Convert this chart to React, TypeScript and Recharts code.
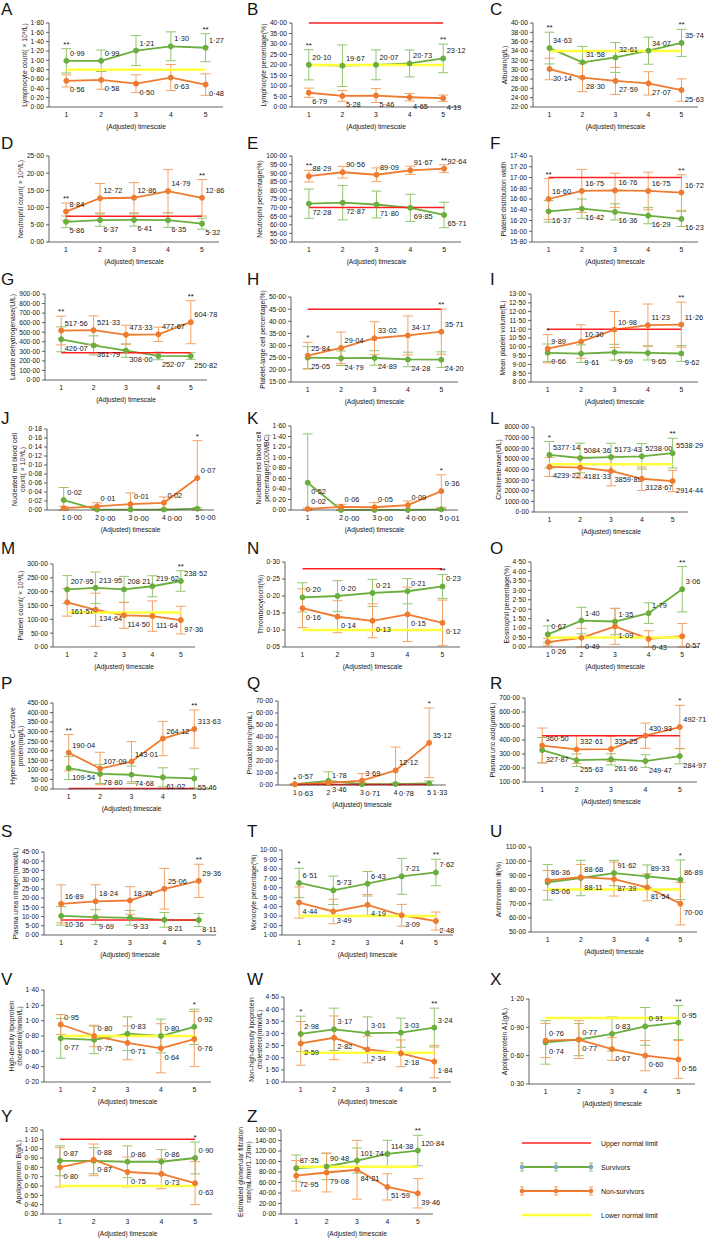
import React from 'react';
import { LineChart, Line, XAxis, YAxis, ErrorBar } from 'recharts';

const TIMESCALE = [1, 2, 3, 4, 5];

// A - lymphocyte count
const A_SURV = [0.99, 0.99, 1.21, 1.3, 1.27];
const A_SURV_SD = [0.26, 0.23, 0.32, 0.31, 0.3];
const A_NON = [0.56, 0.58, 0.5, 0.63, 0.48];
const A_NON_SD = [0.13, 0.2, 0.19, 0.28, 0.23];
const A_TICKS = [0, 0.2, 0.4, 0.6, 0.8, 1, 1.2, 1.4, 1.6, 1.8];
const A_STARS = ['**', '', '', '', '**'];
const A_LOWER = 0.8;

// B - lymphocyte percentage
const B_SURV = [20.1, 19.67, 20.07, 20.73, 23.12];
const B_SURV_SD = [7.2, 9.9, 7.1, 6.4, 6.8];
const B_NON = [6.79, 5.28, 5.46, 4.65, 4.19];
const B_NON_SD = [2.2, 2.6, 3.3, 1.8, 1.5];
const B_TICKS = [0, 5, 10, 15, 20, 25, 30, 35, 40];
const B_STARS = ['**', '', '', '', '**'];
const B_UPPER = 40;
const B_LOWER = 20;

// C - albumin
const C_SURV = [34.63, 31.58, 32.61, 34.07, 35.74];
const C_SURV_SD = [3.4, 3.4, 3.2, 2.9, 2.9];
const C_NON = [30.14, 28.3, 27.59, 27.07, 25.63];
const C_NON_SD = [2.3, 3.0, 2.9, 2.5, 2.4];
const C_TICKS = [22, 24, 26, 28, 30, 32, 34, 36, 38, 40];
const C_STARS = ['**', '', '', '', '**'];
const C_LOWER = 34;

// D - neutrophil count
const D_SURV = [5.86, 6.37, 6.41, 6.35, 5.32];
const D_SURV_SD = [1.7, 1.8, 1.8, 2.1, 1.6];
const D_NON = [8.84, 12.72, 12.86, 14.79, 12.86];
const D_NON_SD = [2.5, 4.3, 4.4, 6.3, 5.3];
const D_TICKS = [0, 5, 10, 15, 20, 25];
const D_STARS = ['**', '', '', '', '**'];
const D_UPPER = 7.5;

// E - neutrophil percentage
const E_SURV = [72.28, 72.87, 71.8, 69.85, 65.71];
const E_SURV_SD = [8.5, 10, 7.8, 7.9, 7.4];
const E_NON = [88.29, 90.56, 89.09, 91.67, 92.64];
const E_NON_SD = [3.4, 3.4, 4, 2.4, 2.3];
const E_TICKS = [50, 55, 60, 65, 70, 75, 80, 85, 90, 95, 100];
const E_STARS = ['**', '', '', '', '**'];
const E_UPPER = 70;

// F - platelet distribution width
const F_SURV = [16.37, 16.42, 16.36, 16.29, 16.23];
const F_SURV_SD = [0.2, 0.18, 0.15, 0.15, 0.14];
const F_NON = [16.6, 16.75, 16.76, 16.75, 16.72];
const F_NON_SD = [0.38, 0.4, 0.32, 0.35, 0.33];
const F_TICKS = [15.8, 16, 16.2, 16.4, 16.6, 16.8, 17, 17.2, 17.4];
const F_STARS = ['**', '', '', '', '**'];
const F_UPPER = 17;

// G - lactate dehydrogenase
const G_SURV = [426.07, 361.79, 308.0, 252.07, 250.82];
const G_SURV_SD = [130, 100, 70, 40, 35];
const G_NON = [517.56, 521.33, 473.33, 477.67, 604.78];
const G_NON_SD = [150, 150, 100, 75, 225];
const G_TICKS = [0, 100, 200, 300, 400, 500, 600, 700, 800, 900];
const G_STARS = ['**', '', '', '', '**'];
const G_UPPER = 285;

// H - platelet-large cell percentage
const H_SURV = [25.05, 24.79, 24.89, 24.28, 24.2];
const H_SURV_SD = [4.5, 3, 3, 3, 3.2];
const H_NON = [25.84, 29.04, 33.02, 34.17, 35.71];
const H_NON_SD = [5.5, 6.5, 6.8, 8, 9.3];
const H_TICKS = [15, 20, 25, 30, 35, 40, 45, 50];
const H_STARS = ['*', '', '', '', '**'];
const H_UPPER = 45;

// I - mean platelet volume
const I_SURV = [9.66, 9.61, 9.69, 9.65, 9.62];
const I_SURV_SD = [0.5, 0.5, 0.45, 0.4, 0.45];
const I_NON = [9.89, 10.3, 10.98, 11.23, 11.26];
const I_NON_SD = [0.8, 0.95, 1.02, 1.2, 1.28];
const I_TICKS = [8, 8.5, 9, 9.5, 10, 10.5, 11, 11.5, 12, 12.5, 13];
const I_STARS = ['*', '', '', '', '**'];
const I_UPPER = 11;

// J - nucleated red blood cell count
const J_SURV = [0.022, 0.001, 0.001, 0.001, 0.003];
const J_SURV_SD = [0.028, 0, 0, 0, 0.002];
const J_NON = [0.004, 0.008, 0.013, 0.016, 0.071];
const J_NON_SD = [0.004, 0.008, 0.025, 0.013, 0.083];
const J_TICKS = [0, 0.02, 0.04, 0.06, 0.08, 0.1, 0.12, 0.14, 0.16, 0.18];
const J_STARS = ['', '', '', '', '*'];

// K - nucleated red blood cell percentage
const K_SURV = [0.52, 0.001, 0.001, 0.001, 0.012];
const K_SURV_SD = [0.93, 0, 0, 0, 0.01];
const K_NON = [0.02, 0.058, 0.052, 0.092, 0.36];
const K_NON_SD = [0.02, 0.05, 0.09, 0.08, 0.31];
const K_TICKS = [0, 0.2, 0.4, 0.6, 0.8, 1, 1.2, 1.4, 1.6];
const K_STARS = ['', '', '', '', '*'];

// L - cholinesterase
const L_SURV = [5377.14, 5084.36, 5173.43, 5238.0, 5538.29];
const L_SURV_SD = [1250, 1400, 1300, 1200, 1400];
const L_NON = [4239.22, 4181.33, 3859.89, 3128.67, 2914.44];
const L_NON_SD = [900, 1000, 1400, 1100, 1000];
const L_TICKS = [0, 1000, 2000, 3000, 4000, 5000, 6000, 7000, 8000];
const L_STARS = ['*', '', '', '', '**'];
const L_LOWER = 4500;

// M - platelet count
const M_SURV = [207.95, 213.95, 208.21, 219.62, 238.52];
const M_SURV_SD = [50, 57, 47, 38, 37];
const M_NON = [161.57, 134.64, 114.5, 111.64, 97.36];
const M_NON_SD = [50, 60, 47, 55, 50];
const M_TICKS = [0, 50, 100, 150, 200, 250, 300];
const M_STARS = ['', '', '', '', '**'];
const M_LOWER = 125;

// N - thrombocytocrit
const N_SURV = [0.196, 0.2, 0.209, 0.214, 0.228];
const N_SURV_SD = [0.043, 0.045, 0.04, 0.037, 0.035];
const N_NON = [0.164, 0.139, 0.127, 0.146, 0.121];
const N_NON_SD = [0.057, 0.047, 0.05, 0.08, 0.067];
const N_TICKS = [0.05, 0.1, 0.15, 0.2, 0.25, 0.3];
const N_STARS = ['', '', '', '', '**'];
const N_UPPER = 0.28;
const N_LOWER = 0.1;

// O - eosinophil percentage
const O_SURV = [0.67, 1.4, 1.35, 1.79, 3.06];
const O_SURV_SD = [0.45, 0.7, 0.7, 0.55, 1.2];
const O_NON = [0.26, 0.49, 1.09, 0.43, 0.57];
const O_NON_SD = [0.2, 0.5, 0.95, 0.43, 0.67];
const O_TICKS = [0, 0.5, 1, 1.5, 2, 2.5, 3, 3.5, 4, 4.5];
const O_STARS = ['*', '', '', '', '**'];
const O_LOWER = 0.5;

// P - hypersensitive C-reactive protein
const P_SURV = [109.54, 78.8, 74.68, 61.02, 55.46];
const P_SURV_SD = [60, 50, 45, 50, 50];
const P_NON = [190.04, 107.09, 143.01, 264.12, 313.63];
const P_NON_SD = [95, 85, 105, 90, 100];
const P_TICKS = [0, 50, 100, 150, 200, 250, 300, 350, 400, 450];
const P_STARS = ['**', '', '', '', '**'];
const P_UPPER = 3;

// Q - procalcitonin
const Q_SURV = [0.63, 3.46, 0.71, 0.78, 1.33];
const Q_SURV_SD = [0.5, 7.5, 1, 1, 2];
const Q_NON = [0.57, 1.78, 3.69, 12.12, 35.12];
const Q_NON_SD = [0.5, 1, 5.8, 19.5, 29];
const Q_TICKS = [0, 10, 20, 30, 40, 50, 60, 70];
const Q_STARS = ['*', '', '', '', '*'];
const Q_UPPER = 0.5;

// R - plasma uric acid
const R_SURV = [327.87, 255.63, 261.66, 249.47, 284.97];
const R_SURV_SD = [90, 45, 40, 45, 55];
const R_NON = [360.5, 332.61, 335.25, 430.93, 492.71];
const R_NON_SD = [125, 100, 90, 90, 155];
const R_TICKS = [100, 200, 300, 400, 500, 600, 700];
const R_STARS = ['', '', '', '', '*'];
const R_UPPER = 430;

// S - plasma urea nitrogen
const S_SURV = [10.36, 9.69, 9.33, 8.21, 8.11];
const S_SURV_SD = [5, 4, 4, 4, 3.5];
const S_NON = [16.89, 18.24, 18.7, 25.06, 29.36];
const S_NON_SD = [10.3, 9, 7.5, 11, 9];
const S_TICKS = [0, 5, 10, 15, 20, 25, 30, 35, 40, 45];
const S_STARS = ['', '', '', '', '**'];
const S_UPPER = 8.2;

// T - monocyte percentage
const T_SURV = [6.51, 5.73, 6.43, 7.21, 7.62];
const T_SURV_SD = [1.55, 1.5, 1.3, 1.9, 1.4];
const T_NON = [4.44, 3.49, 4.19, 3.09, 2.48];
const T_NON_SD = [1.65, 1.3, 1.1, 1.15, 0.95];
const T_TICKS = [1, 2, 3, 4, 5, 6, 7, 8, 9, 10];
const T_STARS = ['*', '', '', '', '**'];
const T_LOWER = 3;

// U - antithrombin III
const U_SURV = [85.06, 88.11, 91.62, 89.33, 86.89];
const U_SURV_SD = [12.5, 12.5, 9, 8, 14];
const U_NON = [86.36, 88.68, 87.39, 81.54, 70.0];
const U_NON_SD = [7, 9, 12, 9.5, 15];
const U_TICKS = [50, 60, 70, 80, 90, 100, 110];
const U_STARS = ['', '', '', '', '*'];
const U_LOWER = 80;

// V - HDL cholesterol
const V_SURV = [0.77, 0.75, 0.83, 0.8, 0.92];
const V_SURV_SD = [0.26, 0.18, 0.22, 0.22, 0.23];
const V_NON = [0.95, 0.8, 0.71, 0.64, 0.76];
const V_NON_SD = [0.13, 0.14, 0.22, 0.32, 0.36];
const V_TICKS = [0.2, 0.4, 0.6, 0.8, 1, 1.2, 1.4];
const V_STARS = ['', '', '', '', '*'];
const V_LOWER = 0.8;

// W - non-HDL cholesterol
const W_SURV = [2.98, 3.17, 3.01, 3.03, 3.24];
const W_SURV_SD = [0.73, 0.87, 0.67, 0.6, 0.8];
const W_NON = [2.59, 2.82, 2.34, 2.18, 1.84];
const W_NON_SD = [0.9, 0.9, 0.55, 0.55, 0.67];
const W_TICKS = [1, 1.5, 2, 2.5, 3, 3.5, 4, 4.5];
const W_STARS = ['*', '', '', '', '**'];
const W_LOWER = 2.2;

// X - apolipoprotein A1
const X_SURV = [0.74, 0.77, 0.83, 0.91, 0.95];
const X_SURV_SD = [0.23, 0.17, 0.18, 0.2, 0.18];
const X_NON = [0.76, 0.77, 0.67, 0.6, 0.56];
const X_NON_SD = [0.18, 0.2, 0.12, 0.16, 0.2];
const X_TICKS = [0.3, 0.6, 0.9, 1.2];
const X_STARS = ['', '', '', '', '**'];
const X_LOWER = 1;

// Y - apolipoprotein B
const Y_SURV = [0.87, 0.87, 0.86, 0.86, 0.9];
const Y_SURV_SD = [0.16, 0.14, 0.17, 0.13, 0.17];
const Y_NON = [0.8, 0.88, 0.75, 0.73, 0.63];
const Y_NON_SD = [0.21, 0.17, 0.16, 0.16, 0.23];
const Y_TICKS = [0.3, 0.4, 0.5, 0.6, 0.7, 0.8, 0.9, 1, 1.1, 1.2];
const Y_STARS = ['', '', '', '', '*'];
const Y_UPPER = 1.1;
const Y_LOWER = 0.6;

// Z - eGFR
const Z_SURV = [87.35, 90.48, 101.74, 114.38, 120.84];
const Z_SURV_SD = [25, 25, 24, 26, 29];
const Z_NON = [72.95, 79.08, 84.21, 51.59, 39.46];
const Z_NON_SD = [29, 37, 56, 25, 28];
const Z_TICKS = [0, 20, 40, 60, 80, 100, 120, 140, 160];
const Z_STARS = ['', '', '', '', '**'];
const Z_LOWER = 90;

const LEGEND_ITEMS = ['Upper normal limit', 'Survivors', 'Non-survivors', 'Lower normal limit'];

const GREEN = '#6aae3e';
const GREEN_BAR = '#93c56f';
const ORANGE = '#ee7b2f';
const ORANGE_BAR = '#f4a264';
const RED = '#ff2020';
const YELLOW = '#ffff3c';
const TEXT = '#151515';
const AXIS = '#3a3a3a';
const FONT = "'Liberation Sans Narrow', 'Liberation Sans', Arial, sans-serif";

const fmt = (v: number) => v.toFixed(2).replace('.', '·');

type PanelDef = {
  id: string;
  title: string[];
  surv: number[];
  survSd: number[];
  non: number[];
  nonSd: number[];
  ticks: number[];
  stars: string[];
  upper?: number;
  lower?: number;
  nonAbove?: boolean;
  box: [number, number, number, number]; // axis x, axis end x, plot top, plot bottom
  letter: [number, number];
};

const C1 = 1, C2 = 247, C3 = 490;

const PANELS: PanelDef[] = [
  { id: 'A', title: ['Lymphocyte count( × 10⁹/L)'], surv: A_SURV, survSd: A_SURV_SD, non: A_NON, nonSd: A_NON_SD, ticks: A_TICKS, stars: A_STARS, lower: A_LOWER, box: [49, 223, 23, 107], letter: [C1, 15] },
  { id: 'B', title: ['Lymphocyte percentage(%)'], surv: B_SURV, survSd: B_SURV_SD, non: B_NON, nonSd: B_NON_SD, ticks: B_TICKS, stars: B_STARS, upper: B_UPPER, lower: B_LOWER, box: [292, 460, 23, 107], letter: [C2, 15] },
  { id: 'C', title: ['Albumin(g/L)'], surv: C_SURV, survSd: C_SURV_SD, non: C_NON, nonSd: C_NON_SD, ticks: C_TICKS, stars: C_STARS, lower: C_LOWER, box: [533, 698, 23, 107], letter: [C3, 15] },
  { id: 'D', title: ['Neutrophil count( × 10⁹/L)'], surv: D_SURV, survSd: D_SURV_SD, non: D_NON, nonSd: D_NON_SD, ticks: D_TICKS, stars: D_STARS, upper: D_UPPER, box: [49, 219, 156, 242], letter: [C1, 149] },
  { id: 'E', title: ['Neutrophil percentage(%)'], surv: E_SURV, survSd: E_SURV_SD, non: E_NON, nonSd: E_NON_SD, ticks: E_TICKS, stars: E_STARS, upper: E_UPPER, box: [292, 461, 156, 242], letter: [C2, 149] },
  { id: 'F', title: ['Platelet distribution width'], surv: F_SURV, survSd: F_SURV_SD, non: F_NON, nonSd: F_NON_SD, ticks: F_TICKS, stars: F_STARS, upper: F_UPPER, box: [532, 698, 156, 242], letter: [C3, 149] },
  { id: 'G', title: ['Lactate dehydrogenase(U/L)'], surv: G_SURV, survSd: G_SURV_SD, non: G_NON, nonSd: G_NON_SD, ticks: G_TICKS, stars: G_STARS, upper: G_UPPER, box: [45, 207, 294, 380], letter: [C1, 285] },
  { id: 'H', title: ['Platelet-large cell percentage(%)'], surv: H_SURV, survSd: H_SURV_SD, non: H_NON, nonSd: H_NON_SD, ticks: H_TICKS, stars: H_STARS, upper: H_UPPER, box: [291, 458, 297, 382], letter: [C2, 285] },
  { id: 'I', title: ['Mean platelet volume(fL)'], surv: I_SURV, survSd: I_SURV_SD, non: I_NON, nonSd: I_NON_SD, ticks: I_TICKS, stars: I_STARS, upper: I_UPPER, box: [531, 698, 294, 382], letter: [C3, 285] },
  { id: 'J', title: ['Nucleated red blood cell', 'count( × 10⁹/L)'], surv: J_SURV, survSd: J_SURV_SD, non: J_NON, nonSd: J_NON_SD, ticks: J_TICKS, stars: J_STARS, box: [47, 214, 429, 510], letter: [C1, 424] },
  { id: 'K', title: ['Nucleated red blood cell', 'percentage(/100WBC)'], surv: K_SURV, survSd: K_SURV_SD, non: K_NON, nonSd: K_NON_SD, ticks: K_TICKS, stars: K_STARS, nonAbove: true, box: [291, 458, 426, 510], letter: [C2, 424] },
  { id: 'L', title: ['Cholinesterase(U/L)'], surv: L_SURV, survSd: L_SURV_SD, non: L_NON, nonSd: L_NON_SD, ticks: L_TICKS, stars: L_STARS, lower: L_LOWER, box: [534, 688, 427, 512], letter: [C3, 424] },
  { id: 'M', title: ['Platelet count( × 10⁹/L)'], surv: M_SURV, survSd: M_SURV_SD, non: M_NON, nonSd: M_NON_SD, ticks: M_TICKS, stars: M_STARS, lower: M_LOWER, box: [53, 195, 564, 647], letter: [C1, 554] },
  { id: 'N', title: ['Thrombocytocrit(%)'], surv: N_SURV, survSd: N_SURV_SD, non: N_NON, nonSd: N_NON_SD, ticks: N_TICKS, stars: N_STARS, upper: N_UPPER, lower: N_LOWER, box: [285, 460, 562, 647], letter: [C2, 554] },
  { id: 'O', title: ['Eosinophil percentage(%)'], surv: O_SURV, survSd: O_SURV_SD, non: O_NON, nonSd: O_NON_SD, ticks: O_TICKS, stars: O_STARS, lower: O_LOWER, box: [531, 699, 562, 647], letter: [C3, 554] },
  { id: 'P', title: ['Hypersensitive C-reactive', 'protein(mg/L)'], surv: P_SURV, survSd: P_SURV_SD, non: P_NON, nonSd: P_NON_SD, ticks: P_TICKS, stars: P_STARS, upper: P_UPPER, box: [53, 210, 703, 789], letter: [C1, 689] },
  { id: 'Q', title: ['Procalcitonin(ng/mL)'], surv: Q_SURV, survSd: Q_SURV_SD, non: Q_NON, nonSd: Q_NON_SD, ticks: Q_TICKS, stars: Q_STARS, upper: Q_UPPER, nonAbove: true, box: [278, 446, 701, 785], letter: [C2, 689] },
  { id: 'R', title: ['Plasma uric acid(μmol/L)'], surv: R_SURV, survSd: R_SURV_SD, non: R_NON, nonSd: R_NON_SD, ticks: R_TICKS, stars: R_STARS, upper: R_UPPER, box: [525, 697, 698, 782], letter: [C3, 689] },
  { id: 'S', title: ['Plasma urea nitrogen(mmol/L)'], surv: S_SURV, survSd: S_SURV_SD, non: S_NON, nonSd: S_NON_SD, ticks: S_TICKS, stars: S_STARS, upper: S_UPPER, box: [44, 216, 852, 935], letter: [C1, 837] },
  { id: 'T', title: ['Monocyte percentage(%)'], surv: T_SURV, survSd: T_SURV_SD, non: T_NON, nonSd: T_NON_SD, ticks: T_TICKS, stars: T_STARS, lower: T_LOWER, box: [282, 453, 850, 935], letter: [C2, 837] },
  { id: 'U', title: ['Antithrombin Ⅲ(%)'], surv: U_SURV, survSd: U_SURV_SD, non: U_NON, nonSd: U_NON_SD, ticks: U_TICKS, stars: U_STARS, lower: U_LOWER, box: [531, 697, 847, 932], letter: [C3, 837] },
  { id: 'V', title: ['High-density lipoprotein', 'cholesterol(mmol/L)'], surv: V_SURV, survSd: V_SURV_SD, non: V_NON, nonSd: V_NON_SD, ticks: V_TICKS, stars: V_STARS, lower: V_LOWER, box: [44, 211, 990, 1082], letter: [C1, 985] },
  { id: 'W', title: ['Non-high-density lipoprotein', 'cholesterol(mmol/L)'], surv: W_SURV, survSd: W_SURV_SD, non: W_NON, nonSd: W_NON_SD, ticks: W_TICKS, stars: W_STARS, lower: W_LOWER, box: [284, 451, 997, 1082], letter: [C2, 985] },
  { id: 'X', title: ['Apolipoprotein A1(g/L)'], surv: X_SURV, survSd: X_SURV_SD, non: X_NON, nonSd: X_NON_SD, ticks: X_TICKS, stars: X_STARS, lower: X_LOWER, box: [529, 695, 999, 1084], letter: [C3, 985] },
  { id: 'Y', title: ['Apolipoprotein B(g/L)'], surv: Y_SURV, survSd: Y_SURV_SD, non: Y_NON, nonSd: Y_NON_SD, ticks: Y_TICKS, stars: Y_STARS, upper: Y_UPPER, lower: Y_LOWER, box: [43, 212, 1130, 1214], letter: [C1, 1122] },
  { id: 'Z', title: ['Estimated glomerular filtration', 'rate(mL/min/1.73m²)'], surv: Z_SURV, survSd: Z_SURV_SD, non: Z_NON, nonSd: Z_NON_SD, ticks: Z_TICKS, stars: Z_STARS, lower: Z_LOWER, box: [281, 433, 1130, 1214], letter: [C2, 1122] },
];

function rowsFor(p: PanelDef) {
  const lo = p.ticks[0];
  const hi = p.ticks[p.ticks.length - 1];
  const bar = (v: number, sd: number) => [Math.max(0, Math.min(sd, v - lo)), Math.max(0, Math.min(sd, hi - v))];
  return TIMESCALE.map((t, i) => {
    const sErr = bar(p.surv[i], p.survSd[i]);
    const nErr = bar(p.non[i], p.nonSd[i]);
    const top = Math.max(p.surv[i] + sErr[1], p.non[i] + nErr[1]);
    return {
      t,
      s: p.surv[i],
      n: p.non[i],
      sErr,
      nErr,
      upper: p.upper ?? null,
      lower: p.lower ?? null,
      star: p.stars[i] ? top : null,
      starTxt: p.stars[i],
    };
  });
}

const makeDot = (color: string, key: 's' | 'n', above: boolean[]) => (props: any) => {
  const { cx, cy, index, payload } = props;
  if (cx == null || cy == null) return <g key={`${key}-${index}`} />;
  return (
    <g key={`${key}-${index}`}>
      <circle cx={cx} cy={cy} r={2.5} fill={color} stroke={color} />
      <text x={cx + 3.5} y={above[index] ? cy - 5 : cy + 11.5} fontSize={7.4} fill={TEXT} fontFamily={FONT}>
        {fmt(payload[key])}
      </text>
    </g>
  );
};

const starDot = (props: any) => {
  const { cx, cy, index, payload } = props;
  if (cx == null || cy == null || !payload.starTxt) return <g key={`st-${index}`} />;
  return (
    <text key={`st-${index}`} x={cx} y={cy - 2} textAnchor="middle" fontSize={8} fill={TEXT} fontFamily={FONT}>
      {payload.starTxt}
    </text>
  );
};

const ML = 70;
const MT = 12;
const MR = 40;
const XH = 28;

function Panel({ p }: { p: PanelDef }) {
  const [x0, x1, top, bottom] = p.box;
  const W = x1 - x0;
  const H = bottom - top;
  const rows = rowsFor(p);
  const sAbove = p.surv.map((s, i) => (p.nonAbove ? false : s >= p.non[i]));
  const nAbove = sAbove.map((a) => !a);
  const labelW = Math.max(...p.ticks.map((t) => fmt(t).length - 1)) * 3.75 + 2.2;
  const lastLineX = ML - 5 - labelW - 5.5;
  const firstLineX = lastLineX - (p.title.length - 1) * 8.2;
  const titleY = MT + H / 2;

  return (
    <div style={{ position: 'absolute', left: x0 - ML, top: top - MT }}>
      <LineChart width={ML + W + MR} height={MT + H + XH} data={rows} margin={{ top: MT, right: MR, bottom: 0, left: 0 }}>
        <XAxis
          type="number"
          dataKey="t"
          domain={[0.5, 5.5]}
          ticks={TIMESCALE}
          interval={0}
          tickLine={false}
          tickSize={0}
          tickMargin={5}
          height={XH}
          axisLine={{ stroke: AXIS, strokeWidth: 0.8 }}
          tick={{ fontSize: 6.8, fill: TEXT, fontFamily: FONT }}
          label={() => (
            <text x={ML + W / 2} y={MT + H + 22} textAnchor="middle" fontSize={6.6} fill={TEXT} fontFamily={FONT}>
              (Adjusted) timescale
            </text>
          )}
        />
        <YAxis
          type="number"
          domain={[p.ticks[0], p.ticks[p.ticks.length - 1]]}
          ticks={p.ticks}
          interval={0}
          width={ML}
          tickSize={3}
          tickMargin={2}
          tickFormatter={fmt}
          axisLine={{ stroke: AXIS, strokeWidth: 0.8 }}
          tickLine={{ stroke: AXIS, strokeWidth: 0.8 }}
          tick={{ fontSize: 6.7, fill: TEXT, fontFamily: FONT }}
          label={() => (
            <g>
              {p.title.map((line, i) => (
                <text
                  key={line}
                  transform={`translate(${firstLineX + i * 8.2}, ${titleY}) rotate(-90)`}
                  textAnchor="middle"
                  dominantBaseline="middle"
                  fontSize={6.8}
                  fill={TEXT}
                  fontFamily={FONT}
                >
                  {line}
                </text>
              ))}
            </g>
          )}
        />
        <Line type="linear" dataKey="s" stroke={GREEN} strokeWidth={1.8} dot={makeDot(GREEN, 's', sAbove)} activeDot={false} isAnimationActive={false}>
          <ErrorBar dataKey="sErr" direction="y" width={5} stroke={GREEN_BAR} strokeWidth={1} />
        </Line>
        <Line type="linear" dataKey="n" stroke={ORANGE} strokeWidth={1.8} dot={makeDot(ORANGE, 'n', nAbove)} activeDot={false} isAnimationActive={false}>
          <ErrorBar dataKey="nErr" direction="y" width={5} stroke={ORANGE_BAR} strokeWidth={1} />
        </Line>
        {p.upper !== undefined && (
          <Line type="linear" dataKey="upper" stroke={RED} strokeWidth={1.5} dot={false} activeDot={false} isAnimationActive={false} />
        )}
        {p.lower !== undefined && (
          <Line type="linear" dataKey="lower" stroke={YELLOW} strokeWidth={2.5} dot={false} activeDot={false} isAnimationActive={false} />
        )}
        <Line type="linear" dataKey="star" stroke="none" dot={starDot} activeDot={false} isAnimationActive={false} />
      </LineChart>
    </div>
  );
}

function LegendBox() {
  const ys = [1143, 1167, 1191, 1215];
  const xs = [522, 556, 591];
  return (
    <g>
      {LEGEND_ITEMS.map((name, i) => {
        const y = ys[i];
        const color = [RED, GREEN, ORANGE, YELLOW][i];
        const series = i === 1 || i === 2;
        const barColor = i === 1 ? GREEN_BAR : ORANGE_BAR;
        return (
          <g key={name}>
            <line x1={xs[0]} x2={xs[2]} y1={y} y2={y} stroke={color} strokeWidth={i === 3 ? 2.5 : series ? 1.8 : 1.5} />
            {series &&
              xs.map((x) => (
                <g key={x}>
                  <line x1={x} x2={x} y1={y - 4} y2={y + 4} stroke={barColor} strokeWidth={1} />
                  <line x1={x - 2} x2={x + 2} y1={y - 4} y2={y - 4} stroke={barColor} strokeWidth={1} />
                  <line x1={x - 2} x2={x + 2} y1={y + 4} y2={y + 4} stroke={barColor} strokeWidth={1} />
                  <circle cx={x} cy={y} r={2.3} fill={i === 1 ? '#7ea6c8' : ORANGE} />
                </g>
              ))}
            <text x={601} y={y + 2.5} fontSize={7} fill={TEXT} fontFamily={FONT}>
              {name}
            </text>
          </g>
        );
      })}
    </g>
  );
}

export default function App() {
  return (
    <div style={{ position: 'absolute', left: 0, top: 0, width: 707, height: 1240, overflow: 'hidden', background: '#fff' }}>
      <svg width={707} height={1240} style={{ position: 'absolute', left: 0, top: 0 }}>
        {PANELS.map((p) => (
          <text key={p.id} x={p.letter[0]} y={p.letter[1]} fontSize={17} fill={TEXT} fontFamily={FONT}>
            {p.id}
          </text>
        ))}
        <LegendBox />
      </svg>
      {PANELS.map((p) => (
        <Panel key={p.id} p={p} />
      ))}
    </div>
  );
}
